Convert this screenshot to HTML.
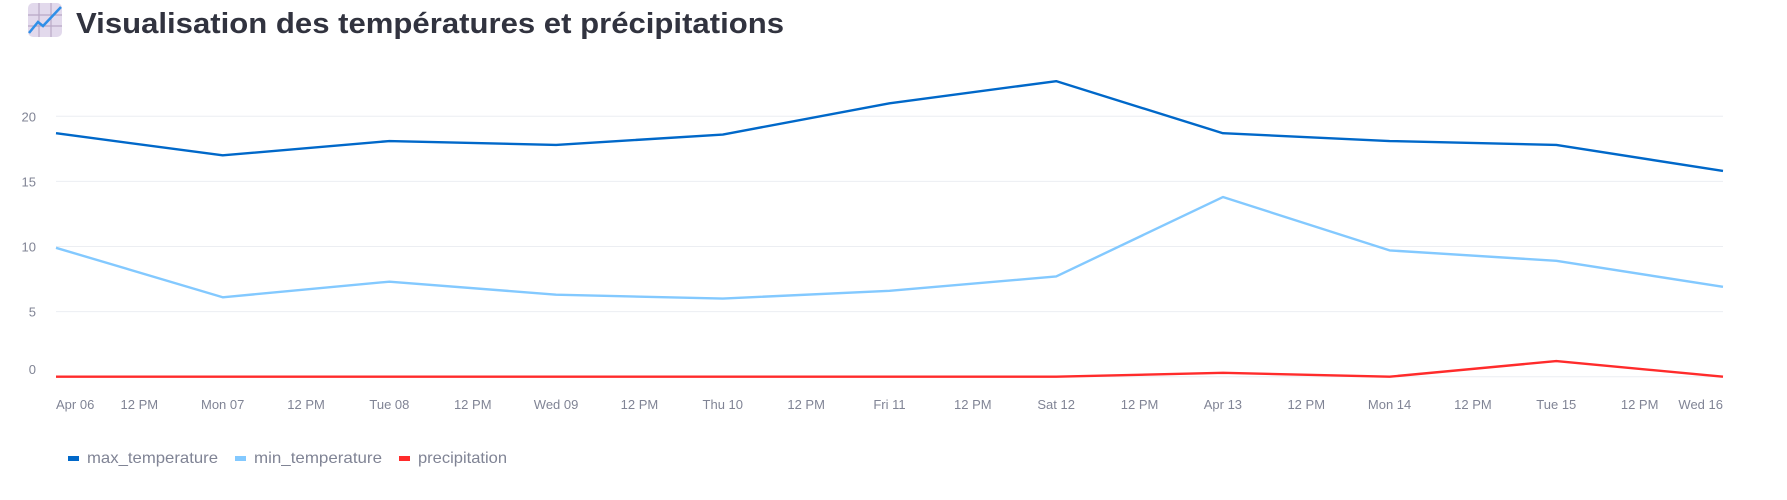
<!DOCTYPE html>
<html><head><meta charset="utf-8"><style>
html,body{margin:0;padding:0;background:#fff;width:1787px;height:500px;overflow:hidden}
svg{display:block;font-family:"Liberation Sans",sans-serif}
</style></head><body>
<svg width="1787" height="500" viewBox="0 0 1787 500">
  <g>
    <rect x="28" y="3" width="34" height="34" rx="5" fill="#e2d9ec"/>
    <path d="M39 3V37M51 3V37M28 15H62M28 26H62" stroke="#b9a9c6" stroke-width="1.2"/>
    <polyline points="29,33 38,22 43,26 61,7" fill="none" stroke="#2f8fe8" stroke-width="2.5"/>
  </g>
  <text x="76" y="33" font-size="29" font-weight="bold" fill="#31333f" textLength="708" lengthAdjust="spacingAndGlyphs">Visualisation des températures et précipitations</text>
  <g id="grid"></g>
  <g id="xaxis"></g>
  <g id="lines"></g>
  <g id="legend"></g>
</svg>
<script>
const days=["Apr 06","Mon 07","Tue 08","Wed 09","Thu 10","Fri 11","Sat 12","Apr 13","Mon 14","Tue 15","Wed 16"];
const maxTemp=[18.7,17.0,18.1,17.8,18.6,21.0,22.7,18.7,18.1,17.8,15.8];
const minTemp=[9.9,6.1,7.3,6.3,6.0,6.6,7.7,13.8,9.7,8.9,6.9];
const precip=[0,0,0,0,0,0,0,0.3,0,1.2,0];
const yTicks=[0,5,10,15,20];
const seriesNames=["max_temperature","min_temperature","precipitation"];
const seriesColors=["#0068c9","#83c9ff","#ff2b2b"];

const NS="http://www.w3.org/2000/svg";
const X0=56,X1=1723,Y0=376.7,Y20=116.3;
const xs=i=>X0+(X1-X0)*i/(days.length-1);
const ys=v=>Y0+(Y20-Y0)*v/20;
function mk(tag,attrs,parent){const e=document.createElementNS(NS,tag);for(const k in attrs)e.setAttribute(k,attrs[k]);parent.appendChild(e);return e;}
const grid=document.getElementById('grid');
yTicks.forEach(t=>{
  const l=mk('line',{x1:X0,x2:X1,y1:ys(t),y2:ys(t),stroke:'#eceef2','stroke-width':1},grid);
  
  
  const tx=mk('text',{x:36,y:Math.min(ys(t)+5,374),'text-anchor':'end','font-size':13,fill:'#808495'},grid);
  tx.textContent=t;
  
  
});
const xa=document.getElementById('xaxis');
days.forEach((d,i)=>{
  const anchor=i===0?'start':(i===days.length-1?'end':'middle');
  const t=mk('text',{x:xs(i),y:409,'text-anchor':anchor,'font-size':13,fill:'#808495'},xa);
  t.textContent=d;
  
  
  if(i<days.length-1){
    const h=mk('text',{x:(xs(i)+xs(i+1))/2,y:409,'text-anchor':'middle','font-size':13,fill:'#808495'},xa);
    h.textContent="12 PM";
    
    
  }
});
const lines=document.getElementById('lines');
[maxTemp,minTemp,precip].forEach((s,k)=>{
  const p=mk('polyline',{points:s.map((v,i)=>xs(i)+','+ys(v)).join(' '),fill:'none',stroke:seriesColors[k],'stroke-width':2.4,'stroke-linejoin':'round'},lines);
  
  
});
const lg=document.getElementById('legend');
const lx=[68,235,399],tw=[131,128,89];
seriesNames.forEach((n,k)=>{
  const r=mk('rect',{x:lx[k],y:456,width:11,height:5,fill:seriesColors[k]},lg);
  
  
  const t=mk('text',{x:lx[k]+19,y:463,'font-size':16,fill:'#808495',textLength:tw[k],lengthAdjust:'spacingAndGlyphs'},lg);
  t.textContent=n;
  
  
});
</script>
</body></html>
